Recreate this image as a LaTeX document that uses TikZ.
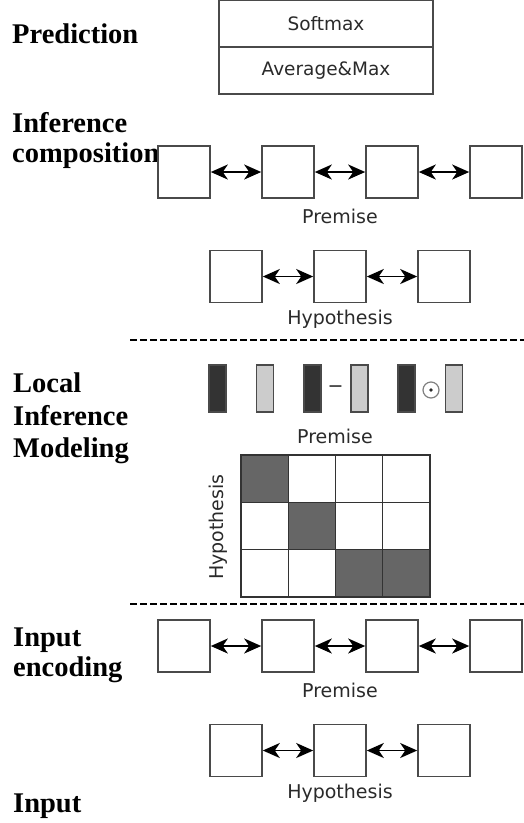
\documentclass[tikz,border=0pt]{standalone}
\usepackage{fontspec}
\setmainfont{Liberation Serif}
\newfontfamily\uifont{DejaVu Sans}
\usetikzlibrary{arrows.meta}

\definecolor{edge}{HTML}{4A4A4A}
\definecolor{ink}{HTML}{2A2A2A}
\definecolor{darkbar}{HTML}{333333}
\definecolor{lightbar}{HTML}{CCCCCC}
\definecolor{hit}{HTML}{666666}

\tikzset{
  stage/.style={font=\fontsize{28.5}{30}\selectfont\bfseries, align=left, inner sep=0pt},
  uilabel/.style={font=\uifont\fontsize{19}{21}\selectfont, text=ink, inner sep=0pt},
  cell/.style={draw=edge, line width=1.6pt, fill=white, minimum width=52pt, minimum height=52pt, inner sep=0pt},
  layerbox/.style={draw=edge, line width=1.6pt, minimum width=214pt, minimum height=47pt, inner sep=0pt, font=\uifont\fontsize{18.5}{20}\selectfont, text=ink},
  tip/.tip={Stealth[length=17pt,width=15pt,inset=5pt]},
  biarrow/.style={line width=1.7pt, tip-tip},
  bar/.style={draw=edge, line width=1.3pt, minimum width=17pt, minimum height=47pt, inner sep=0pt},
  gcell/.style={draw=black!80, line width=1.3pt, minimum width=47.25pt, minimum height=47.3pt, inner sep=0pt},
  divider/.style={line width=1.8pt, dash pattern=on 7pt off 3pt},
}

\begin{document}
\begin{tikzpicture}[x=1pt,y=-1pt]
\useasboundingbox (0,0) rectangle (524,823);

% stage names
\node[stage, anchor=base west] (lpred) at (12,43) {Prediction};
\node[stage, anchor=north west] (lcomp) at (12,112.7) {Inference\\composition};
\node[stage, anchor=north west, font=\fontsize{28.5}{32.5}\selectfont\bfseries] (llocal) at (13,373) {Local\\Inference\\Modeling};
\node[stage, anchor=north west] (lenc) at (13,628) {Input\\encoding};
\node[stage, anchor=base west] (linput) at (13,812) {Input};

% prediction layers
\node[layerbox] (softmax) at (326,23.5) {Softmax};
\node[layerbox] (pool) at (326,70.5) {Average\&Max};

% inference composition
\foreach \i/\x in {1/184,2/288,3/392,4/496}
  \node[cell] (cp\i) at (\x,172) {};
\foreach \i/\x in {1/236,2/340,3/444}
  \node[cell] (ch\i) at (\x,276.5) {};
\draw[biarrow] (cp1) -- (cp2);
\draw[biarrow] (cp2) -- (cp3);
\draw[biarrow] (cp3) -- (cp4);
\draw[biarrow] (ch1) -- (ch2);
\draw[biarrow] (ch2) -- (ch3);
\node[uilabel, anchor=base] (cpl) at (340,223) {Premise};
\node[uilabel, anchor=base] (chl) at (340,324) {Hypothesis};

% dividers
\coordinate (d1a) at (130,340);
\coordinate (d1b) at (524,340);
\coordinate (d2a) at (130,604);
\coordinate (d2b) at (524,604);
\draw[divider] (d1a) -- (d1b);
\draw[divider] (d2a) -- (d2b);

% local inference: enhancement vectors
\node[bar, fill=darkbar] (a1) at (217.5,388.5) {};
\node[bar, fill=lightbar] (b1) at (265,388.5) {};
\node[bar, fill=darkbar] (a2) at (312.5,388.5) {};
\node[bar, fill=lightbar] (b2) at (359.5,388.5) {};
\node[bar, fill=darkbar] (a3) at (406.5,388.5) {};
\node[bar, fill=lightbar] (b3) at (454,388.5) {};
\node[uilabel] (minus) at (335.5,389) {−};
\node[circle, draw=gray, line width=1.2pt, minimum size=16pt, inner sep=0pt] (odot) at (431,390) {};
\fill[ink] (odot.center) circle (1.8pt);
\node[uilabel, anchor=base] (lpl) at (335,443) {Premise};

% alignment matrix
\foreach \r/\c/\f in {0/0/hit,0/1/white,0/2/white,0/3/white,
                      1/0/white,1/1/hit,1/2/white,1/3/white,
                      2/0/white,2/1/white,2/2/hit,2/3/hit}
  \node[gcell, fill=\f] (g\r\c) at ({241+47.25*(\c+0.5)},{455+47.3*(\r+0.5)}) {};
\node[uilabel, rotate=90, anchor=base] (lhl) at (223,527) {Hypothesis};

% input encoding
\foreach \i/\x in {1/184,2/288,3/392,4/496}
  \node[cell] (ep\i) at (\x,646) {};
\foreach \i/\x in {1/236,2/340,3/444}
  \node[cell] (eh\i) at (\x,750.5) {};
\draw[biarrow] (ep1) -- (ep2);
\draw[biarrow] (ep2) -- (ep3);
\draw[biarrow] (ep3) -- (ep4);
\draw[biarrow] (eh1) -- (eh2);
\draw[biarrow] (eh2) -- (eh3);
\node[uilabel, anchor=base] (epl) at (340,697) {Premise};
\node[uilabel, anchor=base] (ehl) at (340,798) {Hypothesis};
\end{tikzpicture}
\end{document}
